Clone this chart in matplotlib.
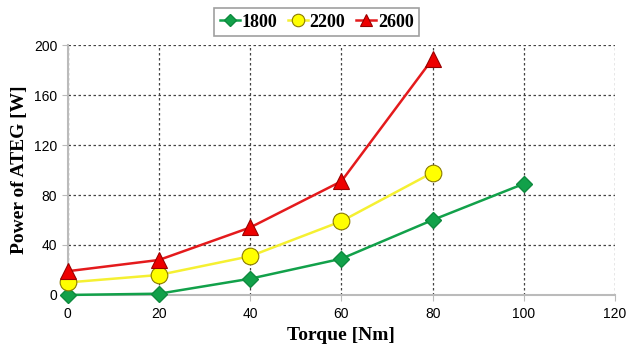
import matplotlib.pyplot as plt

# torque [Nm] and ATEG power [W] for three engine speeds
torque_1800 = [0, 20, 40, 60, 80, 100]
power_1800 = [0, 1, 13, 29, 60, 89]
torque_2200 = [0, 20, 40, 60, 80]
power_2200 = [10, 16, 31, 59, 98]
torque_2600 = [0, 20, 40, 60, 80]
power_2600 = [19, 28, 54, 91, 189]

x_ticks = [0, 20, 40, 60, 80, 100, 120]
y_ticks = [0, 40, 80, 120, 160, 200]

fig = plt.figure(figsize=(6.27, 3.47), dpi=100)
ax = fig.add_axes([0.108, 0.150, 0.873, 0.720])

ax.plot(torque_1800, power_1800, '-D', color='#12a14a', lw=1.8, ms=8,
        mfc='#12a14a', mec='#0e8a3e', label='1800', zorder=3, clip_on=False)
ax.plot(torque_2200, power_2200, '-o', color='#f5f032', lw=1.8, ms=12,
        mfc='#ffff00', mec='#8a7a00', mew=0.8, label='2200', zorder=3, clip_on=False)
ax.plot(torque_2600, power_2600, '-^', color='#e41a1c', lw=1.8, ms=12,
        mfc='#ee0000', mec='#990000', mew=0.8, label='2600', zorder=3, clip_on=False)

ax.set_xlim(0, 120)
ax.set_ylim(0, 200)
ax.set_xticks(x_ticks)
ax.set_yticks(y_ticks)
ax.grid(True, ls=(0, (2, 2)), color='#444444', lw=0.9)
ax.set_axisbelow(True)
for side in ['top', 'right']:
    ax.spines[side].set_visible(False)
for side in ['left', 'bottom']:
    ax.spines[side].set_color('#bbbbbb')
    ax.spines[side].set_linewidth(1.5)
ax.tick_params(length=4, color='#bbbbbb', labelsize=10)
for lab in ax.get_xticklabels() + ax.get_yticklabels():
    lab.set_family('Liberation Sans')
ax.tick_params(axis='x', pad=5)

ax.set_xlabel('Torque [Nm]', family='Liberation Serif', fontweight='bold', fontsize=14)
ax.set_ylabel('Power of ATEG [W]', family='Liberation Serif', fontweight='bold', fontsize=14)

leg = ax.legend(loc='lower center', bbox_to_anchor=(0.455, 1.015), ncol=3,
                prop={'family': 'Liberation Serif', 'weight': 'bold', 'size': 13},
                frameon=True, fancybox=False, handlelength=1.1, handletextpad=0.1,
                columnspacing=0.6, borderpad=0.3, borderaxespad=0.3, markerscale=0.75)
leg.get_frame().set_edgecolor('#888888')
leg.get_frame().set_linewidth(1.2)

fig.savefig('out.png', dpi=100)
